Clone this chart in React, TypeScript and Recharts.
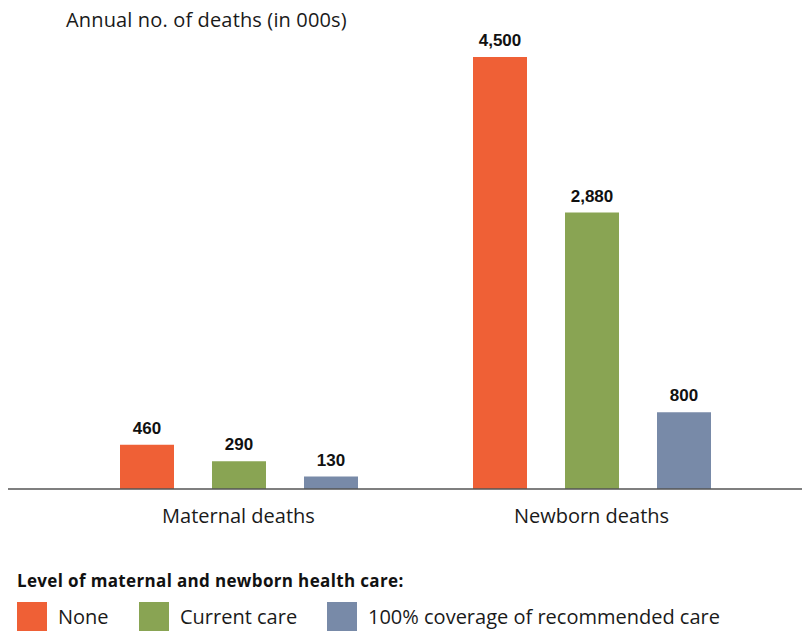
import React from "react";
import { BarChart, Bar, XAxis, YAxis, LabelList, Legend } from "recharts";

const categories = ["Maternal deaths", "Newborn deaths"];
const seriesNames = ["None", "Current care", "100% coverage of recommended care"];
const noneValues = [460, 4500];
const currentValues = [290, 2880];
const fullValues = [130, 800];
const colors = ["#EF6036", "#89A453", "#788AA8"];
const titleText = "Annual no. of deaths (in 000s)";
const legendTitle = "Level of maternal and newborn health care:";

const data = categories.map((c, i) => ({
  category: c,
  none: noneValues[i],
  current: currentValues[i],
  full: fullValues[i],
}));

const NORMAL_FONT = "'Open Sans', sans-serif";
const BOLD_FONT = "'Liberation Sans', Arial, sans-serif";
const HEAD_FONT = "'Open Sans', sans-serif";

const fmt = (v: any) => Number(v).toLocaleString("en-US");

const Tick = (props: any) => {
  const { x, y, payload } = props;
  return (
    <text x={x} y={y + 34} textAnchor="middle" fontFamily={NORMAL_FONT} fontSize={20} fill="#1a1a1a">
      {payload.value}
    </text>
  );
};

const LegendContent = (props: any) => {
  const payload = [...(props.payload || [])].sort(
    (a: any, b: any) => seriesNames.indexOf(a.value) - seriesNames.indexOf(b.value)
  );
  const xs = [9, 131, 319];
  return (
    <svg width={802} height={71} style={{ display: "block" }}>
      <text x={9} y={27} fontFamily={HEAD_FONT} fontWeight="bold" fontSize={17} letterSpacing={0.35} fill="#111">
        {legendTitle}
      </text>
      {payload.map((p: any, i: number) => (
        <g key={i}>
          <rect x={xs[i]} y={42} width={30} height={30} fill={p.color} />
          <text x={xs[i] + 41} y={64} fontFamily={NORMAL_FONT} fontSize={20} fill="#1a1a1a">
            {p.value}
          </text>
        </g>
      ))}
    </svg>
  );
};

const labelStyle = { fontFamily: BOLD_FONT, fontWeight: "bold" as const, fontSize: 17, fill: "#111" };

export default function App() {
  return (
    <div style={{ position: "relative", width: 802, height: 623 }}>
      <svg width={802} height={50} style={{ position: "absolute", left: 0, top: -8, zIndex: 1 }}>
        <text x={58} y={27} fontFamily={NORMAL_FONT} fontSize={20} letterSpacing={0.15} fill="#1a1a1a">
          {titleText}
        </text>
      </svg>
      <BarChart
        width={802}
        height={623}
        data={data}
        margin={{ top: 1, right: 0, bottom: 31, left: 0 }}
        barSize={54}
        barGap={38}
      >
        <YAxis hide domain={[0, 5000]} />
        <XAxis
          dataKey="category"
          height={40}
          padding={{ left: 54, right: 42 }}
          tickLine={false}
          tickSize={0}
          tickMargin={0}
          axisLine={{ stroke: "#555", strokeWidth: 1.5 }}
          tick={<Tick />}
          interval={0}
        />
        <Legend
          verticalAlign="bottom"
          content={<LegendContent />}
          wrapperStyle={{ position: "absolute", left: 0, top: 552, width: 802, height: 71 }}
        />
        <Bar dataKey="none" name={seriesNames[0]} fill={colors[0]} isAnimationActive={false}>
          <LabelList dataKey="none" position="top" offset={11} formatter={fmt} style={labelStyle} />
        </Bar>
        <Bar dataKey="current" name={seriesNames[1]} fill={colors[1]} isAnimationActive={false}>
          <LabelList dataKey="current" position="top" offset={11} formatter={fmt} style={labelStyle} />
        </Bar>
        <Bar dataKey="full" name={seriesNames[2]} fill={colors[2]} isAnimationActive={false}>
          <LabelList dataKey="full" position="top" offset={11} formatter={fmt} style={labelStyle} />
        </Bar>
      </BarChart>
    </div>
  );
}
